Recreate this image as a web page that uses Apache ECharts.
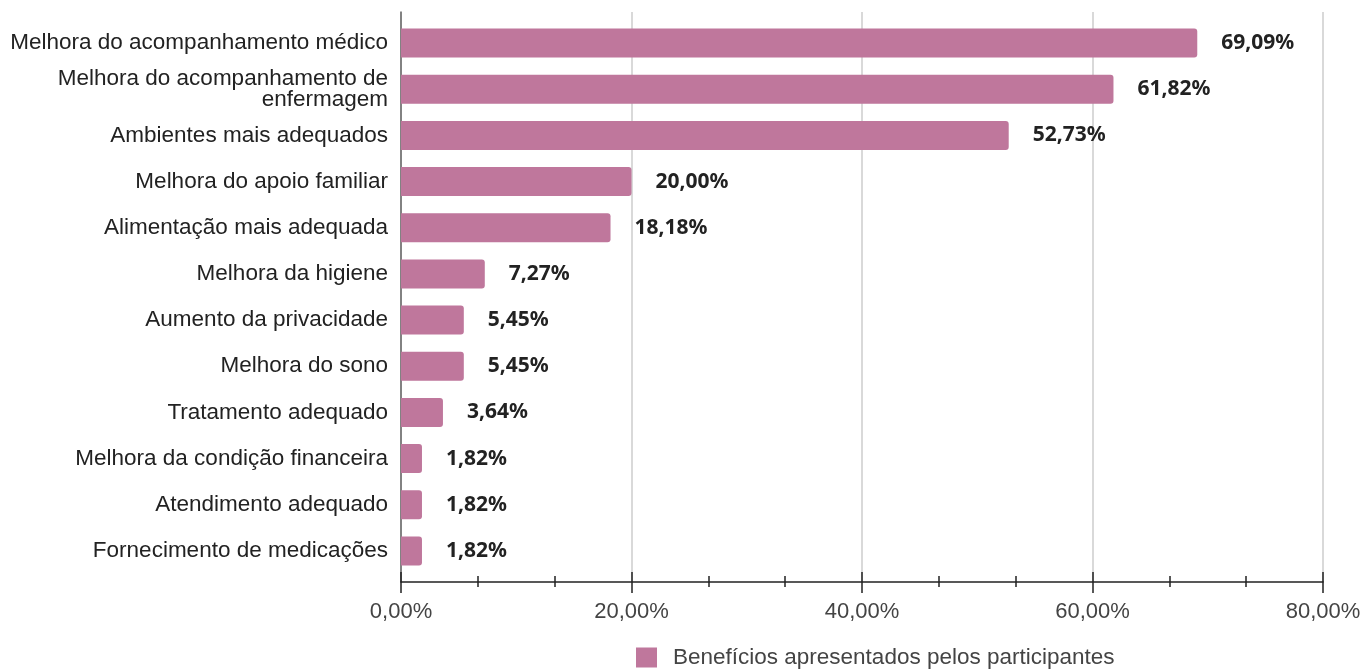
<!DOCTYPE html>
<html>
<head>
<meta charset="utf-8">
<script src="https://cdn.jsdelivr.net/npm/echarts@6/dist/echarts.min.js"></script>
<style>
	html, body { margin: 0; padding: 0; background: #fff; }
	#chart { width: 1364px; height: 670px; }
</style>
</head>
<body>
<div id="chart"></div>
<script>
// categories top to bottom
var categories = [
	'Melhora do acompanhamento médico',
	'Melhora do acompanhamento de\nenfermagem',
	'Ambientes mais adequados',
	'Melhora do apoio familiar',
	'Alimentação mais adequada',
	'Melhora da higiene',
	'Aumento da privacidade',
	'Melhora do sono',
	'Tratamento adequado',
	'Melhora da condição financeira',
	'Atendimento adequado',
	'Fornecimento de medicações'
];
var values = [69.09, 61.82, 52.73, 20.00, 18.18, 7.27, 5.45, 5.45, 3.64, 1.82, 1.82, 1.82];
var seriesName = 'Benefícios apresentados pelos participantes';
var axisMin = 0, axisMax = 80, axisStep = 20;

function pct(v){
	return v.toFixed(2).replace('.', ',') + '%';
}

var chart = echarts.init(document.getElementById('chart'));
var option = {
	animation: false,
	grid: [
		{ left: 401, right: 41, top: 12, bottom: 88 },
		{ left: 401, right: 41, top: 20, bottom: 96 }
	],
	legend: {
		data: [{ name: seriesName, icon: 'rect' }],
		top: 646,
		left: 636,
		padding: 0,
		itemWidth: 21,
		itemHeight: 20,
		itemGap: 10,
		textStyle: { fontFamily: 'Liberation Sans', fontSize: 22.5, color: '#444', padding: [0, 0, 0, 11] }
	},
	xAxis: [
		{
			gridIndex: 0, type: 'value', position: 'bottom', min: axisMin, max: axisMax, interval: axisStep,
			axisLine: { show: true, lineStyle: { color: '#222', width: 1.5 } },
			axisTick: { show: true, length: 11, lineStyle: { color: '#222', width: 1.5 } },
			minorTick: { show: true, splitNumber: 3, length: 5, lineStyle: { color: '#222', width: 1.5 } },
			splitLine: { show: true, lineStyle: { color: '#cccccc', width: 1.5 } },
			axisLabel: {
				margin: 19,
				fontFamily: 'Liberation Sans', fontSize: 22, color: '#444',
				formatter: function(v){ return pct(v); }
			}
		},
		{
			gridIndex: 0, type: 'value', position: 'bottom', min: axisMin, max: axisMax, interval: axisStep,
			axisLine: { show: false },
			axisTick: { show: true, inside: true, length: 10, lineStyle: { color: '#222', width: 1.5 } },
			minorTick: { show: true, splitNumber: 3, length: 6, lineStyle: { color: '#222', width: 1.5 } },
			splitLine: { show: false },
			axisLabel: { show: false }
		},
		{
			gridIndex: 1, type: 'value', min: axisMin, max: axisMax, show: false
		}
	],
	yAxis: [
		{
			gridIndex: 0, type: 'category', data: [''],
			axisLine: { show: true, lineStyle: { color: '#666', width: 1.5 } },
			axisTick: { show: false },
			axisLabel: { show: false }
		},
		{
			gridIndex: 1, type: 'category', data: categories, inverse: true,
			axisLine: { show: false },
			axisTick: { show: false },
			axisLabel: {
				margin: 13,
				fontFamily: 'Liberation Sans', fontSize: 22.5, color: '#222',
				lineHeight: 21, align: 'right'
			}
		}
	],
	series: [
		{
			name: seriesName,
			type: 'bar',
			xAxisIndex: 2,
			yAxisIndex: 1,
			data: values,
			barWidth: 29,
			itemStyle: { color: '#bf779c', borderRadius: [0, 3, 3, 0] },
			label: {
				show: true,
				position: 'right',
				distance: 24,
				fontFamily: 'Noto Sans', fontWeight: 'bold', fontSize: 21, color: '#222',
				formatter: function(p){ return pct(p.value); }
			}
		}
	]
};
chart.setOption(option);
</script>
</body>
</html>
